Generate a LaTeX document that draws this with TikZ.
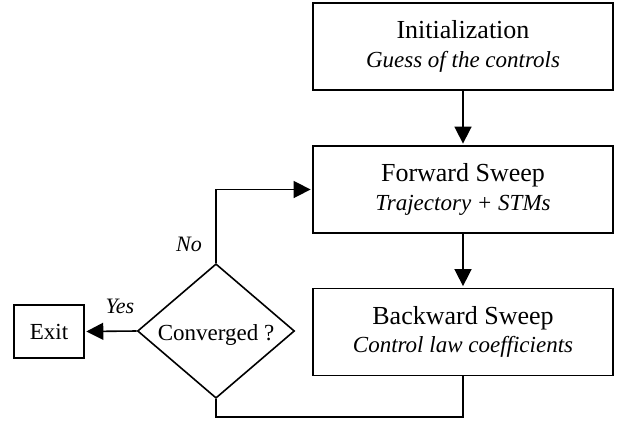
\documentclass[tikz,border=0pt]{standalone}
\usepackage{fontspec}
\setmainfont{Liberation Serif}
\usetikzlibrary{shapes.geometric,arrows.meta}
\tikzset{
  stepbox/.style={draw,line width=1.8pt,minimum width=300pt,minimum height=87pt,inner sep=0pt,align=center,font=\fontsize{26}{28.5}\selectfont},
  decide/.style={draw,diamond,line width=1.6pt,minimum width=157pt,minimum height=123pt,inner sep=0pt,font=\fontsize{23}{26}\selectfont,text height=18pt,text depth=0pt},
  exitbox/.style={draw,line width=1.6pt,minimum width=70pt,minimum height=53pt,inner sep=0pt,font=\fontsize{23}{26}\selectfont},
  conn/.style={line width=1.6pt},
  arr/.style={conn,-{Triangle[length=17pt,width=17pt]},shorten >=1.5pt},
  lab/.style={font=\fontsize{22}{24}\selectfont\itshape,anchor=base,inner sep=0pt}
}
\newcommand{\sub}[1]{{\fontsize{23}{28.5}\selectfont\itshape #1}}
\begin{document}
\begin{tikzpicture}[x=1pt,y=-1pt]
\useasboundingbox (0,0) rectangle (621,421);
\node[stepbox] (init) at (463,46.5) {Initialization\\\sub{Guess of the controls}};
\node[stepbox] (fwd) at (463,189.5) {Forward Sweep\\\sub{Trajectory + STMs}};
\node[stepbox] (bwd) at (463,332) {Backward Sweep\\\sub{Control law coefficients}};
\node[decide] (conv) at (216,331) {Converged ?};
\node[exitbox] (exit) at (49,331.5) {Exit};
\coordinate (loop) at (463,417);
\node[lab] (no) at (189,251) {No};
\node[lab] (yes) at (120,313) {Yes};
\draw[arr] (init) -- (fwd);
\draw[arr] (fwd) -- (bwd);
\draw[arr] (conv.north) |- (fwd.west);
\draw[arr] (conv.west) -- (exit.east);
\draw[conn] (bwd.south) -- (loop) -| (conv.south);
\end{tikzpicture}
\end{document}
